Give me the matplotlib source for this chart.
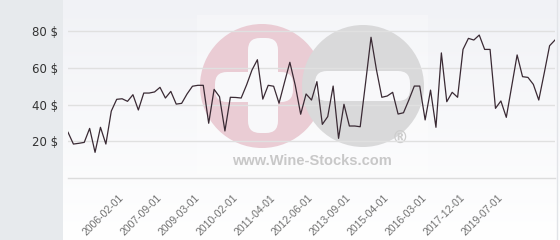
import matplotlib
import matplotlib.pyplot as plt
import numpy as np
from matplotlib.patches import Rectangle, Circle, FancyBboxPatch

matplotlib.use('Agg')

plt.rcParams['font.family'] = 'DejaVu Sans'

# Prices (one point per category, left to right)
prices = [
    25.0, 18.6, 19.0, 19.5, 27.1, 14.1, 27.7, 18.6, 36.5, 42.9,
    43.2, 41.8, 45.4, 37.1, 46.3, 46.3, 46.9, 49.4, 43.6, 47.2,
    40.3, 40.7, 45.8, 50.0, 50.5, 50.5, 29.9, 48.3, 44.3, 25.7,
    44.0, 43.9, 43.6, 50.7, 58.8, 64.4, 43.0, 50.5, 50.0, 40.8,
    52.0, 63.0, 50.5, 34.8, 45.8, 42.5, 52.5, 29.3, 33.5, 50.1,
    21.7, 40.2, 28.4, 28.4, 28.0, 52.0, 76.6, 59.0, 44.0, 44.7,
    46.7, 34.9, 35.6, 42.6, 50.1, 50.1, 31.7, 47.9, 27.7, 68.1,
    41.6, 46.7, 44.0, 70.0, 76.0, 75.1, 77.8, 70.0, 70.0, 38.0,
    42.0, 33.1, 50.0, 67.0, 55.2, 54.8, 51.0, 42.5, 57.0, 72.0,
    75.1,
]
tick_labels = ['2006-02-01', '2007-09-01', '2009-03-01', '2010-02-01',
               '2011-04-01', '2012-06-01', '2013-09-01', '2015-04-01',
               '2016-03-01', '2017-12-01', '2019-07-01']
tick_positions = [10 + 7 * k for k in range(len(tick_labels))]
y_ticks = [20, 40, 60, 80]

W, H = 560, 240
fig = plt.figure(figsize=(W / 100, H / 100), dpi=100)

# Background layer in pixel coordinates
bg = fig.add_axes([0, 0, 1, 1], zorder=0)
bg.set_xlim(0, W)
bg.set_ylim(H, 0)
bg.axis('off')

bg.add_patch(Rectangle((0, 0), 63, H, color='#e7eaed', lw=0))
grad = np.linspace(0, 1, 256).reshape(-1, 1)
bg.imshow(grad, extent=(63, W, H, 0), cmap=matplotlib.colors.LinearSegmentedColormap.from_list(
    'bg', ['#f1f2f6', '#ffffff']), aspect='auto', zorder=0)
bg.plot([557, 557], [0, H], color='#e2e4e8', lw=1, zorder=1)

# Watermark
bg.add_patch(Rectangle((197, 15), 231, 159, color='white', alpha=0.3, lw=0, zorder=1))
bg.add_patch(Circle((262, 86), 62, color='#eaccd4', lw=0, zorder=2))
bg.add_patch(Circle((363, 86), 61, color='#d9d9da', lw=0, zorder=2))
for x0, y0, w, h in [(248, 38, 30, 95), (215, 72, 78, 30), (315, 71, 95, 30)]:
    bg.add_patch(FancyBboxPatch((x0 + 12, y0 + 12), w - 24, h - 24,
                                boxstyle='round,pad=12', color='#f8f8fa',
                                lw=0, zorder=3))
bg.text(400, 139, '®', fontsize=12, color='#cdcdcd', ha='center', va='center',
        fontweight='bold', zorder=3)
bg.text(312, 161, 'www.Wine-Stocks.com', fontsize=10.5, color='#c8c8c8',
        family='Liberation Sans', fontweight='bold', ha='center', va='center',
        zorder=3)

# Main chart
ax = fig.add_axes([68 / W, (H - 178.3) / H, (555 - 68) / W, (178.3 - 10) / H],
                  zorder=1)
ax.set_facecolor('none')
ax.plot(range(len(prices)), prices, color='#3a2a34', lw=0.9, zorder=3)

ax.set_xlim(0, len(prices) - 1)
ax.set_ylim(0, (178.3 - 10) * 80 / 147.3)
ax.set_yticks(y_ticks)
ax.set_yticklabels([f'{v} $' for v in y_ticks])
ax.yaxis.grid(True, color='#e0e0e0', lw=1)
ax.set_axisbelow(True)

ax.set_xticks(tick_positions)
ax.set_xticklabels(tick_labels, rotation=45, ha='right', va='center',
                   rotation_mode='anchor', family='Liberation Sans',
                   fontsize=7.5, color='#6f6f6f')
ax.tick_params(axis='x', length=0, pad=13)
ax.tick_params(axis='y', length=0, pad=7, labelsize=8.5, labelcolor='#333333')

for side in ['top', 'right', 'left']:
    ax.spines[side].set_visible(False)
ax.spines['bottom'].set_color('#dcdcdc')
ax.spines['bottom'].set_linewidth(1)

plt.savefig('out.png', dpi=100)
plt.close()
